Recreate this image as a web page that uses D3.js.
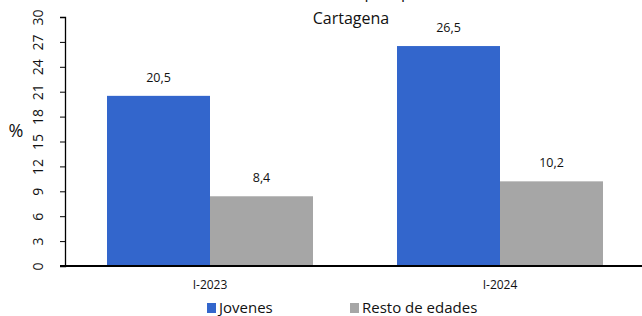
<!DOCTYPE html>
<html><head><meta charset="utf-8">
<script src="https://cdn.jsdelivr.net/npm/d3@7"></script>
<style>body{margin:0;background:#fff}svg{display:block}</style>
</head><body><svg id="c" width="642" height="316"></svg>
<script>
const categories = ["I-2023", "I-2024"];
const seriesNames = ["Jovenes", "Resto de edades"];
const jovenes = [20.5, 26.5];
const resto = [8.4, 10.2];
const yTicks = [0, 3, 6, 9, 12, 15, 18, 21, 24, 27, 30];
const colors = ["#3366CC", "#A6A6A6"];

const svg = d3.select("#c");
const font = "'Open Sans', 'Noto Sans', sans-serif";
const y = d3.scaleLinear().domain([0, 30]).range([266, 17]);
const x0 = d3.scaleBand().domain(categories).range([65, 645]);
const x1 = d3.scaleBand().domain(seriesNames).range([0, 206]);
const data = categories.map((c, i) => ({cat: c, vals: [jovenes[i], resto[i]]}));

// title (first line clipped at top, as in the reference)
svg.append("text").attr("x", 340).attr("y", -2).attr("text-anchor", "middle")
  .attr("font-family", font).attr("font-size", 16).attr("fill", "#111").text("Tasa de desempleo por");
svg.append("text").attr("x", 351).attr("y", 24).attr("text-anchor", "middle")
  .attr("font-family", font).attr("font-size", 16).attr("fill", "#111").text("Cartagena");

// bars
const g = svg.append("g").selectAll("g").data(data).join("g")
  .attr("transform", d => `translate(${x0(d.cat) + (x0.bandwidth() - 206) / 2},0)`);
g.selectAll("rect").data(d => d.vals.map((v, j) => ({v, s: seriesNames[j], j}))).join("rect")
  .attr("x", d => x1(d.s)).attr("width", x1.bandwidth())
  .attr("y", d => y(d.v)).attr("height", d => y(0) - y(d.v))
  .attr("fill", d => colors[d.j]);
g.selectAll("text").data(d => d.vals.map((v, j) => ({v, s: seriesNames[j]}))).join("text")
  .attr("x", d => x1(d.s) + x1.bandwidth() / 2).attr("y", d => y(d.v) - 14)
  .attr("text-anchor", "middle").attr("font-family", font).attr("font-size", 12.5)
  .attr("fill", "#111").text(d => String(d.v.toFixed(1)).replace(".", ","));

// y axis
const ya = svg.append("g").attr("transform", "translate(65,0)")
  .call(d3.axisLeft(y).tickValues(yTicks).tickSize(5).tickFormat(d => d));
ya.select(".domain").attr("stroke", "#000").attr("stroke-width", 1.3);
ya.selectAll(".tick line").attr("stroke", "#000");
ya.selectAll(".tick text").attr("font-family", font).attr("font-size", 14).attr("fill", "#111")
  .attr("x", -27).attr("dy", "0.35em").attr("text-anchor", "middle")
  .attr("transform", `rotate(-90 -27 0)`);

// x axis
svg.append("line").attr("x1", 60).attr("x2", 642).attr("y1", y(0)).attr("y2", y(0))
  .attr("stroke", "#000").attr("stroke-width", 2);
const xa = svg.append("g").attr("transform", `translate(0,${y(0)})`)
  .call(d3.axisBottom(x0).tickSize(0).tickPadding(14));
xa.select(".domain").remove();
xa.selectAll(".tick text").attr("font-family", font).attr("font-size", 12).attr("fill", "#111");

// % label
svg.append("text").attr("x", 16).attr("y", 137).attr("text-anchor", "middle")
  .attr("font-family", font).attr("font-size", 18).attr("fill", "#111").text("%");

// legend
const legX = [207, 350];
seriesNames.forEach((s, i) => {
  svg.append("rect").attr("x", legX[i]).attr("y", 303).attr("width", 9).attr("height", 10).attr("fill", colors[i]);
  svg.append("text").attr("x", legX[i] + 12).attr("y", 313).attr("font-family", font)
    .attr("font-size", 15).attr("fill", "#111").text(s);
});
</script></body></html>
